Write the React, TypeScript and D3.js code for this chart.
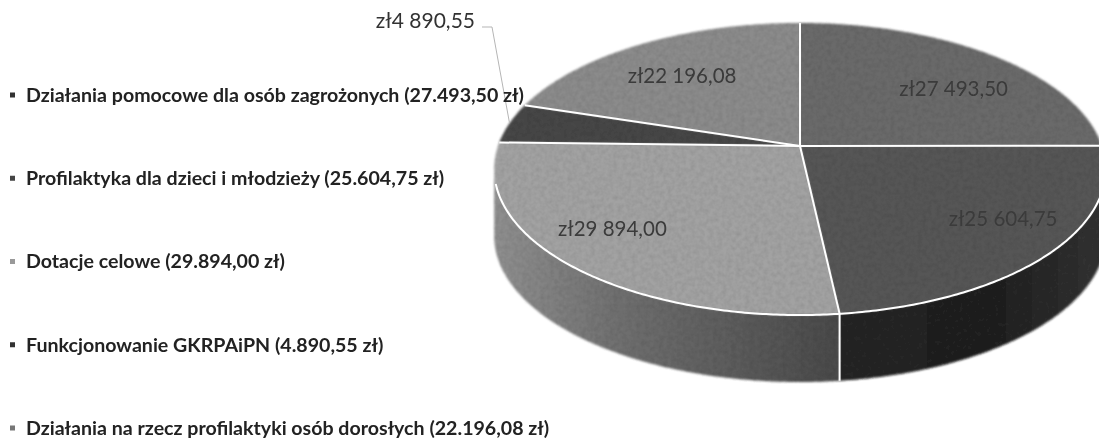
import React from "react";
import * as d3 from "d3";

const categories = [
  "Działania pomocowe dla osób zagrożonych (27.493,50 zł)",
  "Profilaktyka dla dzieci i młodzieży (25.604,75 zł)",
  "Dotacje celowe (29.894,00 zł)",
  "Funkcjonowanie GKRPAiPN (4.890,55 zł)",
  "Działania na rzecz profilaktyki osób dorosłych (22.196,08 zł)",
];
const values = [27493.5, 25604.75, 29894.0, 4890.55, 22196.08];
const valueLabels = ["zł27 493,50", "zł25 604,75", "zł29 894,00", "zł4 890,55", "zł22 196,08"];
const topColors = ["#6b6b6b", "#565656", "#a2a2a2", "#474747", "#8b8b8b"];
const bulletColors = ["#333", "#444", "#999", "#333", "#777"];
const labelNudge: [number, number][] = [[15, 8], [33, 1], [-32, 3], [0, 0], [-3, 4]];

const W = 1099, H = 440;
const CX = 800, CY = 146, A = 302, B = 142.4, P = 0.1575, DEPTH = 67;
const project = (theta: number, r = 1): [number, number] => {
  const u = Math.sin(theta) * r;
  const v = -Math.cos(theta) * r;
  const d = 1 - P * v;
  return [CX + (A * u) / d, CY + (B * v) / d];
};
const SIDE_START = Math.acos(-P); // widest point on the right
const SIDE_END = 2 * Math.PI - SIDE_START; // widest point on the left

const arcPts = (a0: number, a1: number) => {
  const n = Math.max(2, Math.ceil(Math.abs(a1 - a0) / 0.01));
  return d3.range(n + 1).map((i) => project(a0 + ((a1 - a0) * i) / n));
};
const line = d3.line<[number, number]>();

export default function App() {
  const arcs = d3.pie<number>().sort(null).value((d) => d)(values);
  const apex: [number, number] = [CX, CY];

  const sides = arcs
    .map((s, i) => ({ i, a0: Math.max(s.startAngle, SIDE_START), a1: Math.min(s.endAngle, SIDE_END) }))
    .filter((s) => s.a1 > s.a0);

  const textFont = { fontFamily: "Lato, 'Open Sans', sans-serif" };
  const legendY = d3.scalePoint<string>().domain(categories).range([95, 428]);

  const leaderEnd = project((arcs[3].startAngle + arcs[3].endAngle) / 2, 1);

  return (
    <svg
      width={W}
      height={H}
      viewBox={`0 0 ${W} ${H}`}
      style={{ position: "absolute", left: 0, top: 0, display: "block", background: "#fff" }}
    >
      <defs>
        <filter id="scan" x="-5%" y="-5%" width="110%" height="110%">
          <feGaussianBlur in="SourceGraphic" stdDeviation="0.8" result="b" />
          <feTurbulence type="fractalNoise" baseFrequency="0.22" numOctaves="2" seed="4" result="n" />
          <feColorMatrix in="n" type="matrix" values="0 0 0 0 0  0 0 0 0 0  0 0 0 0 0  0 0 0 0.3 -0.1" result="na" />
          <feComposite in="na" in2="b" operator="in" result="grain" />
          <feMerge>
            <feMergeNode in="b" />
            <feMergeNode in="grain" />
          </feMerge>
        </filter>
        <filter id="soft" x="-2%" y="-2%" width="104%" height="104%">
          <feGaussianBlur stdDeviation="0.5" />
        </filter>
        <filter id="lines" filterUnits="userSpaceOnUse" x={480} y={0} width={619} height={440}>
          <feGaussianBlur stdDeviation="0.3" />
        </filter>
        <linearGradient id="side1" gradientUnits="userSpaceOnUse" x1={840} x2={1100} y1={0} y2={0}>
          <stop offset="0" stopColor="#272727" />
          <stop offset="0.6" stopColor="#232323" />
          <stop offset="1" stopColor="#333" />
        </linearGradient>
        <linearGradient id="side2" gradientUnits="userSpaceOnUse" x1={495} x2={840} y1={0} y2={0}>
          <stop offset="0" stopColor="#8f8f8f" />
          <stop offset="0.35" stopColor="#707070" />
          <stop offset="1" stopColor="#4a4a4a" />
        </linearGradient>
      </defs>

      <g filter="url(#scan)">
        {sides.map((s) => {
          const pts = arcPts(s.a0, s.a1);
          const low = pts.slice().reverse().map(([x, y]) => [x, y + DEPTH] as [number, number]);
          return <path key={s.i} d={line([...pts, ...low]) + "Z"} fill={`url(#side${s.i})`} />;
        })}
        {arcs.map((s, i) => (
          <path key={i} d={line([apex, ...arcPts(s.startAngle, s.endAngle)]) + "Z"} fill={topColors[i]} />
        ))}
      </g>

      <g filter="url(#lines)">
        {arcs.map((s, i) => (
          <path key={i} d={line([apex, project(s.startAngle)])!} stroke="#fff" strokeWidth={2} fill="none" />
        ))}
        <path d={line(arcPts(SIDE_START, SIDE_END - 0.1))!} stroke="#fff" strokeWidth={2} fill="none" />
        {sides.slice(1).map((s) => {
          const [x, y] = project(s.a0);
          return <path key={s.i} d={line([[x, y], [x, y + DEPTH]])!} stroke="#fff" strokeWidth={2} fill="none" />;
        })}
      </g>

      <g filter="url(#soft)" style={textFont}>
        <path
          d={line([[482, 27], [492, 27], leaderEnd])!}
          stroke="#b5b5b5"
          strokeWidth={1}
          fill="none"
        />
        {arcs.map((s, i) => {
          if (i === 3) {
            return (
              <text key={i} x={475} y={21} dy="0.35em" textAnchor="end" fontSize={21} fill="#333">
                {valueLabels[i]}
              </text>
            );
          }
          const [x, y] = project((s.startAngle + s.endAngle) / 2, 0.7);
          const nudge = labelNudge[i];
          return (
            <text key={i} x={x + nudge[0]} y={y + nudge[1]} dy="0.35em" textAnchor="middle" fontSize={20.5} fill="#3a3a3a">
              {valueLabels[i]}
            </text>
          );
        })}
        {categories.map((c, i) => (
          <g key={c}>
            <rect x={10} y={legendY(c)! - 2.5} width={5} height={5} fill={bulletColors[i]} />
            <text x={26} y={legendY(c)!} dy="0.35em" fontSize={19.6} fontWeight={700} fill="#222">
              {c}
            </text>
          </g>
        ))}
      </g>
    </svg>
  );
}
